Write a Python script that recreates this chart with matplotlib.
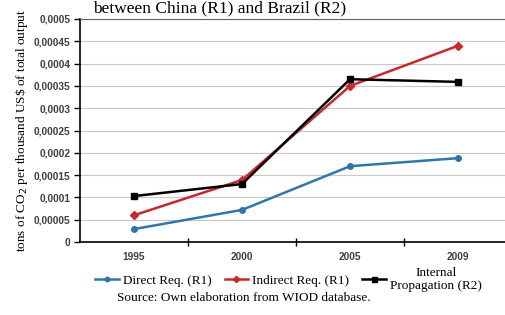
import matplotlib.pyplot as plt
import numpy as np

# values
years = ['1995', '2000', '2005', '2009']
direct_r1 = [0.000029, 0.000072, 0.000170, 0.000188]
indirect_r1 = [0.000060, 0.000139, 0.000350, 0.000440]
internal_r2 = [0.000103, 0.000130, 0.000365, 0.000359]

serif = 'Liberation Serif'
sans = 'Liberation Sans'

fig = plt.figure(figsize=(5.06, 3.15), dpi=100)
ax = fig.add_axes([0.158, 0.2317, 0.854, 0.708])

x = np.arange(len(years))
ax.plot(x, direct_r1, color='#2f77a8', lw=1.8, marker='o', ms=4, label='Direct Req. (R1)')
ax.plot(x, indirect_r1, color='#c8282c', lw=1.8, marker='D', ms=4, label='Indirect Req. (R1)')
ax.plot(x, internal_r2, color='black', lw=1.8, marker='s', ms=4.5, label='Internal\nPropagation (R2)')

ax.set_xlim(-0.5, 3.5)
ax.set_ylim(0, 0.0005)
yt = np.arange(0, 0.00051, 0.00005)
ax.set_yticks(yt)
ax.set_yticklabels(['0'] + [('%g' % v).replace('.', ',') if v >= 0.0001 else '0,00005' for v in yt[1:]],
                   fontfamily=sans, fontweight='bold', fontsize=7.3, color='#404040')
ax.set_xticks(x)
ax.set_xticklabels(years, fontfamily=sans, fontweight='bold', fontsize=7.3, color='#404040')
ax.set_xticks([0.5, 1.5, 2.5], minor=True)
ax.tick_params(axis='x', which='major', length=0, pad=7)
ax.tick_params(axis='x', which='minor', direction='inout', length=6, width=1)
ax.tick_params(axis='y', direction='out', length=4, width=1, pad=3)

ax.grid(axis='y', color='#c8c8c8', lw=0.8)
ax.set_axisbelow(True)
ax.spines['right'].set_visible(False)
ax.spines['top'].set_color('#606060')
ax.spines['left'].set_linewidth(1.2)
ax.spines['bottom'].set_linewidth(1.2)

fig.text(0.042, 1 - 130 / 315, 'tons of CO$_2$ per thousand US\\$ of total output',
         fontfamily=serif, fontsize=9.5, rotation=90, ha='center', va='center')

# the title sits right at the top edge, as in the reference
fig.text(0.433, 1 - 12 / 315, 'between China (R1) and Brazil (R2)', fontfamily=serif, fontsize=12.5,
         ha='center', va='baseline')

leg = fig.legend(loc='center', bbox_to_anchor=(0.57, 0.113), ncol=3, frameon=False,
                 prop={'family': serif, 'size': 9.5}, handlelength=1.8, handletextpad=0.3,
                 columnspacing=1.0, markerscale=0.8)
for t in leg.get_texts():
    t.set_multialignment('center')
fig.text(0.482, 0.054, 'Source: Own elaboration from WIOD database.', fontfamily=serif,
         fontsize=9.5, ha='center', va='center')

fig.savefig('out.png', dpi=100)
